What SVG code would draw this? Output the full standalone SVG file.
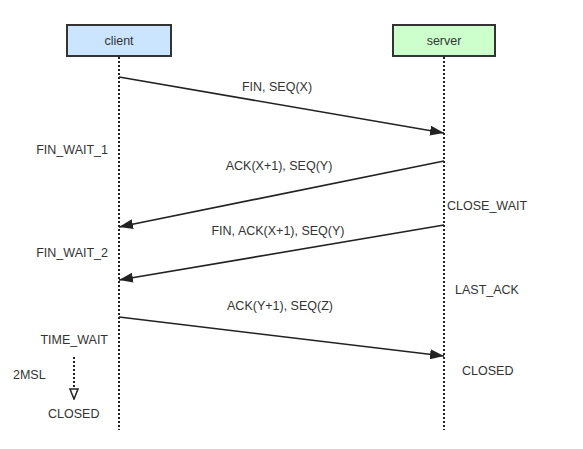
<svg xmlns="http://www.w3.org/2000/svg" width="583" height="449" viewBox="0 0 583 449">
<defs>
<style>
text{font-family:"Liberation Sans",Arial,sans-serif;font-size:12.5px;fill:#333}
.box{stroke:#333;stroke-width:2}
.life{stroke:#222;stroke-width:2;stroke-dasharray:2 2;fill:none}
.msg{stroke:#222;stroke-width:1.6;fill:none;marker-end:url(#ah)}
</style>
<marker id="ah" viewBox="0 0 14 10" refX="14" refY="5" markerWidth="14" markerHeight="10" markerUnits="userSpaceOnUse" orient="auto">
<path d="M0,0 L14,5 L0,10 Z" fill="#222"/>
</marker>
<marker id="oh" viewBox="0 0 10 12" refX="5" refY="12" markerWidth="10" markerHeight="12" markerUnits="userSpaceOnUse" orient="0">
<path d="M1,1 L9,1 L5,11 Z" fill="#fff" stroke="#222" stroke-width="1.5"/>
</marker>
</defs>
<rect width="583" height="449" fill="#fff"/>
<g id="client">
<rect class="box" x="67" y="25" width="104" height="31" fill="#cce5ff"/>
<text x="119" y="45" text-anchor="middle">client</text>
<line class="life" x1="119" y1="57" x2="119" y2="430"/>
</g>
<g id="server">
<rect class="box" x="393" y="25" width="102" height="31" fill="#ccffcc"/>
<text x="444" y="45" text-anchor="middle">server</text>
<line class="life" x1="444" y1="57" x2="444" y2="430"/>
</g>
<g id="connectors">
<line class="msg" x1="119" y1="77" x2="444" y2="133"/>
<line class="msg" x1="444" y1="161" x2="119" y2="227"/>
<line class="msg" x1="444" y1="225" x2="119" y2="280"/>
<line class="msg" x1="119" y1="317" x2="444" y2="356"/>
<line stroke="#222" stroke-width="2" stroke-dasharray="2 2" x1="74" y1="357" x2="74" y2="400" marker-end="url(#oh)"/>
</g>
<g id="labels">
<text x="277" y="91" text-anchor="middle">FIN, SEQ(X)</text>
<text x="279" y="170" text-anchor="middle">ACK(X+1), SEQ(Y)</text>
<text x="278" y="235" text-anchor="middle">FIN, ACK(X+1), SEQ(Y)</text>
<text x="280" y="310" text-anchor="middle">ACK(Y+1), SEQ(Z)</text>
<text x="108" y="154" text-anchor="end">FIN_WAIT_1</text>
<text x="108" y="257" text-anchor="end">FIN_WAIT_2</text>
<text x="108" y="344" text-anchor="end">TIME_WAIT</text>
<text x="13" y="379">2MSL</text>
<text x="48" y="418">CLOSED</text>
<text x="447" y="210">CLOSE_WAIT</text>
<text x="455" y="294">LAST_ACK</text>
<text x="462" y="375">CLOSED</text>
</g>
</svg>
